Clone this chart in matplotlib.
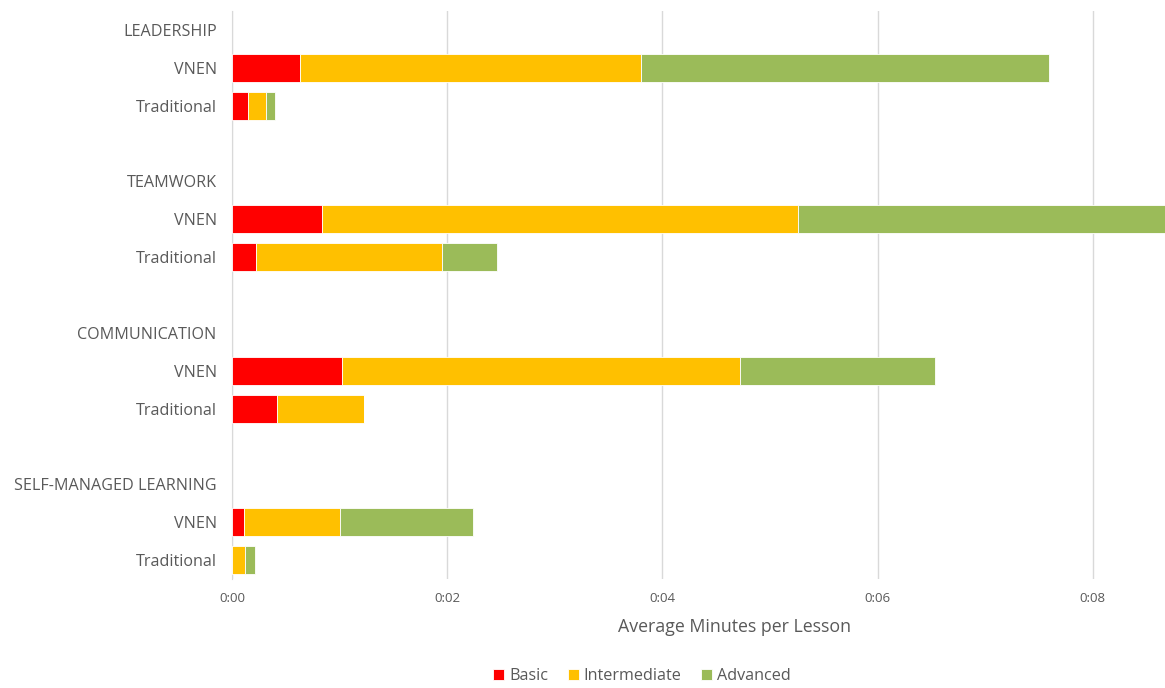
import matplotlib.pyplot as plt
import numpy as np

# Données (secondes)
skills = ["LEADERSHIP", "TEAMWORK", "COMMUNICATION", "SELF-MANAGED LEARNING"]
programs = ["VNEN", "Traditional"]
levels = ["Basic", "Intermediate", "Advanced"]
colors = ["#FF0000", "#FFC000", "#9BBB59"]

# ordre: LEADERSHIP VNEN, LEADERSHIP Trad, TEAMWORK VNEN, ...
basic = [0.63, 0.15, 0.835, 0.22, 1.02, 0.42, 0.11, 0.0]
intermediate = [3.17, 0.17, 4.425, 1.73, 3.70, 0.81, 0.89, 0.12]
advanced = [3.79, 0.08, 3.5, 0.51, 1.81, 0.0, 1.24, 0.09]

tick_labels = ["0:00", "0:02", "0:04", "0:06", "0:08"]

plt.rcParams['font.family'] = ['Open Sans', 'DejaVu Sans']
text_color = "#595959"

fig = plt.figure(figsize=(11.65, 6.88), dpi=100)
ax = fig.add_axes([232 / 1165, 1 - 579 / 688, 1 - 232 / 1165, (579 - 11) / 688])

# positions des lignes: titre, VNEN, Traditional, vide
ypos = []
labels = []
for g, skill in enumerate(skills):
    base = g * 4
    labels.append((base, skill))
    for p, prog in enumerate(programs):
        ypos.append(base + 1 + p)
        labels.append((base + 1 + p, prog))

ypos = np.array(ypos)
left = np.zeros(len(ypos))
for vals, col, name in zip([basic, intermediate, advanced], colors, levels):
    vals = np.array(vals)
    ax.barh(ypos, vals, left=left, height=0.74, color=col, edgecolor="white",
            linewidth=0.6, label=name, zorder=3)
    left = left + vals

ax.set_ylim(14.5, -0.5)
ax.set_xlim(0, (1165 - 232) / 107.6)
ax.set_yticks([l[0] for l in labels])
ax.set_yticklabels([l[1] for l in labels], fontsize=11.6, color=text_color)
ax.set_xticks(range(0, 10, 2))
ax.set_xticklabels(tick_labels, fontsize=9.5, color=text_color)
ax.tick_params(axis="y", length=0, pad=11)
ax.tick_params(axis="x", length=0, pad=9)
ax.xaxis.grid(True, color="#D9D9D9", linewidth=1, zorder=0)
for s in ["top", "right", "bottom"]:
    ax.spines[s].set_visible(False)
ax.spines["left"].set_color("#D9D9D9")
ax.set_xlabel("Average Minutes per Lesson", fontsize=12.8, color=text_color, labelpad=13)
ax.xaxis.set_label_coords(0.539, -0.068)

fig.legend(loc="center", bbox_to_anchor=(642 / 1165, 1 - 676 / 688), ncol=3,
           frameon=False, fontsize=11.6, labelcolor=text_color, handlelength=0.7,
           handleheight=0.7, handletextpad=0.3, columnspacing=1.2)

fig.savefig("out.png", dpi=100)
